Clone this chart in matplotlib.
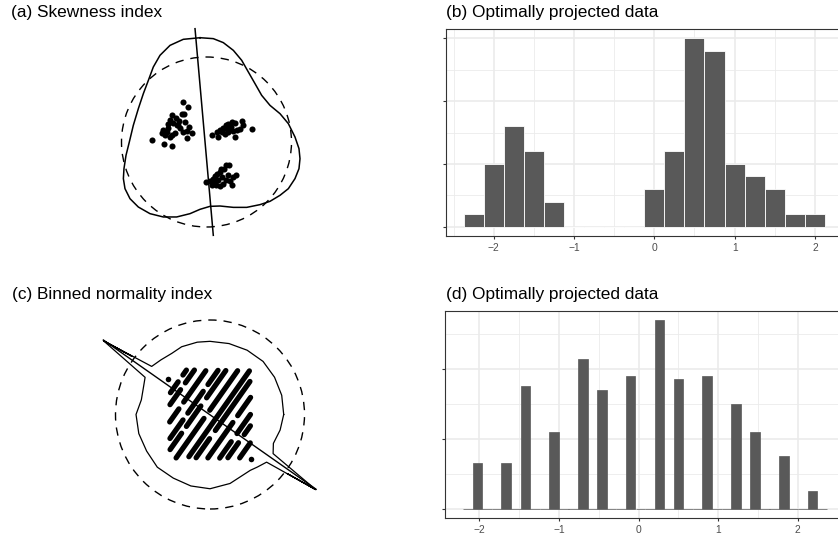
import numpy as np
import matplotlib
matplotlib.use('Agg')
import matplotlib.pyplot as plt
from matplotlib.patches import Circle

plt.rcParams['font.family'] = ['Liberation Sans', 'DejaVu Sans']

# ---- (a) skewness index: data, index curve, projection line (circle radius = 1)
pts_a_x = [-0.273, -0.221, -0.261, -0.292, -0.409, -0.429, -0.449, -0.391, -0.351, -0.312,
           -0.280, -0.233, -0.202, -0.174, -0.226, -0.371, -0.409, -0.468, -0.508, -0.527,
           -0.488, -0.429, -0.645, -0.500, -0.402, -0.332, -0.359, -0.324, -0.453, -0.253,
           0.061, 0.139, 0.120, 0.159, 0.198, 0.229, 0.256, 0.296, 0.335, 0.414,
           0.433, 0.394, 0.355, 0.335, 0.256, 0.218, 0.179, 0.238, 0.285, 0.532,
           0.315, 0.265,
           0.229, 0.268, 0.206, 0.159, 0.120, 0.100, 0.080, 0.041, -0.006, 0.061,
           0.112, 0.159, 0.198, 0.229, 0.276, 0.296, 0.315, 0.347, 0.179, 0.139,
           0.100, 0.256, 0.167]
pts_a_y = [0.467, 0.409, 0.329, 0.329, 0.318, 0.259, 0.212, 0.220, 0.200, 0.161,
           0.121, 0.133, 0.180, 0.102, 0.044, 0.102, 0.082, 0.121, 0.141, 0.102,
           0.082, 0.062, 0.024, -0.024, -0.044, 0.200, 0.282, 0.247, 0.165, 0.235,
           0.079, 0.059, 0.118, 0.138, 0.165, 0.196, 0.215, 0.235, 0.227, 0.244,
           0.196, 0.156, 0.138, 0.059, 0.118, 0.098, 0.118, 0.156, 0.176, 0.156,
           0.126, 0.153,
           -0.267, -0.267, -0.314, -0.353, -0.373, -0.400, -0.432, -0.462, -0.471, -0.509,
           -0.502, -0.518, -0.491, -0.451, -0.462, -0.509, -0.412, -0.385, -0.412, -0.451,
           -0.471, -0.392, -0.314]

skew_x = [-0.076, -0.273, -0.429, -0.547, -0.626, -0.684, -0.743, -0.802, -0.861, -0.908,
          -0.947, -0.971, -0.978, -0.959, -0.900, -0.802, -0.665, -0.508, -0.351, -0.194,
          -0.076, 0.041, 0.159, 0.316, 0.473, 0.629, 0.747, 0.865, 0.963, 1.041,
          1.088, 1.100, 1.088, 1.041, 0.963, 0.865, 0.747, 0.649, 0.571, 0.492,
          0.414, 0.316, 0.198, 0.080]
skew_y = [1.227, 1.208, 1.137, 1.020, 0.882, 0.725, 0.569, 0.392, 0.196, 0.000,
          -0.157, -0.314, -0.431, -0.549, -0.667, -0.765, -0.843, -0.882, -0.882, -0.843,
          -0.792, -0.757, -0.753, -0.769, -0.769, -0.737, -0.698, -0.627, -0.549, -0.431,
          -0.314, -0.196, -0.078, 0.059, 0.216, 0.333, 0.431, 0.549, 0.686, 0.824,
          0.961, 1.078, 1.169, 1.216]
line_a_x = [-0.135, 0.080]
line_a_y = [1.333, -1.098]

# ---- (b) histogram of projected data
hist_b_centers = [-2.25, -2.0, -1.75, -1.5, -1.25, -1.0, -0.75, -0.5, -0.25,
                  0.0, 0.25, 0.5, 0.75, 1.0, 1.25, 1.5, 1.75, 2.0]
hist_b_counts = [1, 5, 8, 6, 2, 0, 0, 0, 0, 3, 6, 15, 14, 5, 4, 3, 1, 1]
hist_b_width = 0.25

# ---- (d) histogram of projected (binned) data
hist_d_centers = [-2.143, -2.023, -1.902, -1.782, -1.662, -1.542, -1.421, -1.301, -1.181, -1.061,
                  -0.940, -0.820, -0.700, -0.580, -0.459, -0.339, -0.219, -0.099, 0.022, 0.142,
                  0.262, 0.382, 0.503, 0.623, 0.743, 0.863, 0.984, 1.104, 1.224, 1.344,
                  1.465, 1.585, 1.705, 1.825, 1.946, 2.066, 2.186, 2.306]
hist_d_counts = [0, 13, 0, 0, 13, 0, 35, 0, 0, 22,
                 0, 0, 43, 0, 34, 0, 0, 38, 0, 0,
                 54, 0, 37, 0, 0, 38, 0, 0, 30, 0,
                 22, 0, 0, 15, 0, 0, 5, 0]
hist_d_width = 0.1203

# ---- (c) binned normality index: data streaks (projected value u, along-streak spans v)
proj_angle_c = -35.2
streak_u = [-2.023, -1.662, -1.421, -1.061, -0.700, -0.459, -0.099,
            0.262, 0.503, 0.863, 1.224, 1.465, 1.825, 2.186]
streak_spans = [
    [(0.185, 0.185)],
    [(-0.185, 0.309), (0.617, 0.840)],
    [(-0.556, 0.123), (0.432, 1.012)],
    [(-1.086, -0.494), (-0.185, 1.235)],
    [(-1.580, -0.741), (-0.432, 0.556), (0.864, 1.506)],
    [(-1.914, -1.173), (-0.864, 0.062), (0.432, 1.667)],
    [(-2.037, -0.247), (0.123, 1.914)],
    [(-1.728, 2.160)],
    [(-1.605, -0.741), (-0.370, 1.852)],
    [(-1.358, 0.247), (0.556, 1.383)],
    [(-1.111, -0.370), (0.0, 0.864)],
    [(-0.926, -0.247), (0.123, 0.519)],
    [(-0.679, 0.0)],
    [(-0.457, -0.457)],
]
index_c_angle = [0, 15, 30, 45, 60, 75, 90, 100, 112.7, 122, 132, 140.5,
                 145.3, 143.3, 145.3, 150.2, 158, 168, 180, 195, 210, 225, 240, 255,
                 270, 286.2, 305.8, 312, 319.9, 324.6, 322.6, 324.6, 328.2, 335.5, 347.5, 360]
index_c_r = [2.73, 2.75, 2.76, 2.78, 2.75, 2.72, 2.71, 2.72, 2.72, 2.67, 2.72, 2.80,
             4.80, 3.60, 4.80, 2.77, 2.66, 2.60, 2.74, 2.73, 2.71, 2.76, 2.72, 2.74,
             2.75, 2.66, 2.55, 2.62, 2.74, 4.80, 3.60, 4.80, 2.75, 2.58, 2.66, 2.73]
line_c_x = [-3.95, 3.93]
line_c_y = [2.76, -2.77]
circle_c_r = 3.5

W, H = 838, 540
fig = plt.figure(figsize=(W / 100, H / 100), dpi=100)


def box(left, top, right, bottom):
    return fig.add_axes([left / W, 1 - bottom / H, (right - left) / W, (bottom - top) / H])


def index_panel(left, top, right, bottom, cx, cy, scale):
    ax = box(left, top, right, bottom)
    ax.set_xlim((left - cx) / scale, (right - cx) / scale)
    ax.set_ylim((cy - bottom) / scale, (cy - top) / scale)
    ax.set_axis_off()
    return ax


dash = (0, (6, 5))

# (a)
ax = index_panel(100, 22, 320, 245, 206.5, 142, 85)
ax.add_patch(Circle((0, 0), 1, fill=False, ec='black', lw=1.0, ls=dash))
ax.plot(skew_x + skew_x[:1], skew_y + skew_y[:1], color='black', lw=1.1,
        solid_joinstyle='round')
ax.plot(line_a_x, line_a_y, color='black', lw=1.1)
ax.plot(pts_a_x, pts_a_y, 'o', color='black', ms=4.4, mew=0)

# (c)
ax = index_panel(95, 315, 330, 515, 210, 414.5, 27)
ax.add_patch(Circle((0, 0), circle_c_r, fill=False, ec='black', lw=1.0, ls=dash))
th = np.deg2rad(index_c_angle)
r = np.array(index_c_r)
ax.plot(r * np.cos(th), r * np.sin(th), color='black', lw=0.9)
ax.plot(line_c_x, line_c_y, color='black', lw=1.0)
a = np.deg2rad(proj_angle_c)
e = np.array([np.cos(a), np.sin(a)])
d = np.array([-np.sin(a), np.cos(a)])
for u, spans in zip(streak_u, streak_spans):
    for v0, v1 in spans:
        p0 = u * e + v0 * d
        p1 = u * e + v1 * d
        if v0 == v1:
            ax.plot([p0[0]], [p0[1]], 'o', color='black', ms=4.0, mew=0)
        else:
            ax.plot([p0[0], p1[0]], [p0[1], p1[1]], color='black', lw=3.8,
                    solid_capstyle='round')


def gg_hist(ax, centers, counts, width, edge, lw, ymaj, ymin, xmin):
    ax.bar(centers, counts, width=width, color='#595959', edgecolor=edge, linewidth=lw,
           zorder=3)
    ax.set_xticks([-2, -1, 0, 1, 2])
    ax.set_xticklabels(['\u22122', '\u22121', '0', '1', '2'])
    ax.set_xticks(xmin, minor=True)
    ax.set_yticks(ymaj)
    ax.set_yticklabels([])
    ax.set_yticks(ymin, minor=True)
    ax.grid(which='major', color='#EBEBEB', lw=1.2)
    ax.grid(which='minor', color='#EBEBEB', lw=0.6)
    ax.set_axisbelow(True)
    ax.tick_params(which='minor', length=0)
    ax.tick_params(which='major', length=2.2, width=0.8, color='#333333', labelsize=7.4,
                   labelcolor='#4D4D4D', pad=2.5)
    for s in ax.spines.values():
        s.set_color('#333333')
        s.set_linewidth(0.8)


# (b)
xlo, xhi = -2.6, 2.35
ax = box(445.5, 29, 445.5 + (xhi - xlo) * 80.3, 236)
ax.set_xlim(xlo, xhi)
ax.set_ylim(-0.75, 15.75)
gg_hist(ax, hist_b_centers, hist_b_counts, hist_b_width, 'white', 0.6,
        [0, 5, 10, 15], [2.5, 7.5, 12.5], [-2.5, -1.5, -0.5, 0.5, 1.5])

# (d)
xlo, xhi = -2.4315, 2.5965
ax = box(445, 310.7, 445 + (xhi - xlo) * 79.6, 518)
ax.set_xlim(xlo, xhi)
ax.set_ylim(-2.7, 56.7)
gg_hist(ax, hist_d_centers, hist_d_counts, hist_d_width, '#595959', 0.5,
        [0, 20, 40], [10, 30, 50], [-1.5, -0.5, 0.5, 1.5, 2.5])

# titles
for x, y, s in [(11, 13, '(a) Skewness index'), (446, 13, '(b) Optimally projected data'),
                (11.5, 295, '(c) Binned normality index'),
                (446, 295, '(d) Optimally projected data')]:
    fig.text(x / W, 1 - y / H, s, fontsize=12.4, ha='left', va='center', color='black')

fig.savefig('out.png', dpi=100)
